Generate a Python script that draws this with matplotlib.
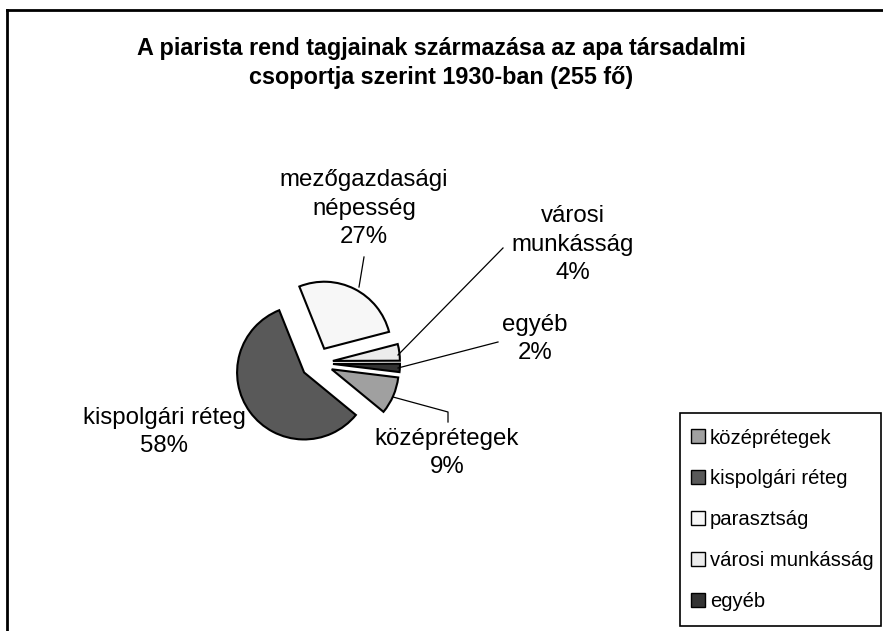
import matplotlib.pyplot as plt
from matplotlib.lines import Line2D
from matplotlib.patches import Rectangle

plt.rcParams['font.family'] = ['Liberation Sans', 'DejaVu Sans']

# data
legend_names = ['középrétegek', 'kispolgári réteg', 'parasztság',
                'városi munkásság', 'egyéb']
label_names = ['középrétegek', 'kispolgári réteg', 'mezőgazdasági\nnépesség',
               'városi\nmunkásság', 'egyéb']
shares = [9, 58, 27, 4, 2]
colors = ['#a0a0a0', '#595959', '#f7f7f7', '#ececec', '#333333']
title = 'A piarista rend tagjainak származása az apa társadalmi\ncsoportja szerint 1930-ban (255 fő)'

W, H = 883, 631
fig = plt.figure(figsize=(W / 100, H / 100), dpi=100)
ax = fig.add_axes([0, 0, 1, 1])


def py(y):
    # pixel row (from top) -> axis y
    return H - y


wedges, _ = ax.pie(shares, colors=colors, startangle=-7, counterclock=False,
                   center=(317, py(363)), radius=67, explode=[16] * 5,
                   wedgeprops=dict(edgecolor='black', linewidth=1.5),
                   frame=True)
ax.set_xlim(0, W)
ax.set_ylim(0, H)
ax.axis('off')

# slice labels: (centre x, row of first line) and leader line points
label_pos = [(447, 438), (164, 417), (364, 178), (573, 214), (535, 324)]
leaders = [[(393, 397), (448, 412), (448, 422)],
           None,
           [(364, 257), (359, 287)],
           [(503, 248), (398, 355)],
           [(498, 342), (398, 368)]]
step = 30.5
for name, val, (lx, ly), lead in zip(label_names, shares, label_pos, leaders):
    txt = f'{name}\n{val}%'
    n = txt.count('\n') + 1
    ax.text(lx, py(ly) - (n - 1) * step / 2, txt, ha='center', va='center',
            fontsize=17.3, linespacing=1.38)
    if lead:
        ax.plot([p[0] for p in lead], [py(p[1]) for p in lead],
                color='black', lw=0.9)

fig.text(0.5, py(63) / H, title, ha='center', va='center', fontsize=16.8,
         fontweight='bold', linespacing=1.3)

# outer frame (top and left only)
fig.add_artist(Line2D([7 / W, 1], [py(9.5) / H] * 2, color='black', lw=2))
fig.add_artist(Line2D([7 / W] * 2, [0, py(9.5) / H], color='black', lw=2))

# legend box drawn separately, entries placed inside it
ax.add_patch(Rectangle((680, py(626)), 201, 213, facecolor='white',
                       edgecolor='black', lw=1.2, zorder=4))
leg = fig.legend(wedges, legend_names, loc='upper left',
                 bbox_to_anchor=(691 / W, py(428.5) / H), fontsize=14.6,
                 frameon=False, handlelength=0.68, handleheight=0.68,
                 handletextpad=0.25, labelspacing=1.08, borderpad=0,
                 borderaxespad=0)
for h in leg.legend_handles:
    h.set_linewidth(1)

fig.savefig('out.png', dpi=100)
